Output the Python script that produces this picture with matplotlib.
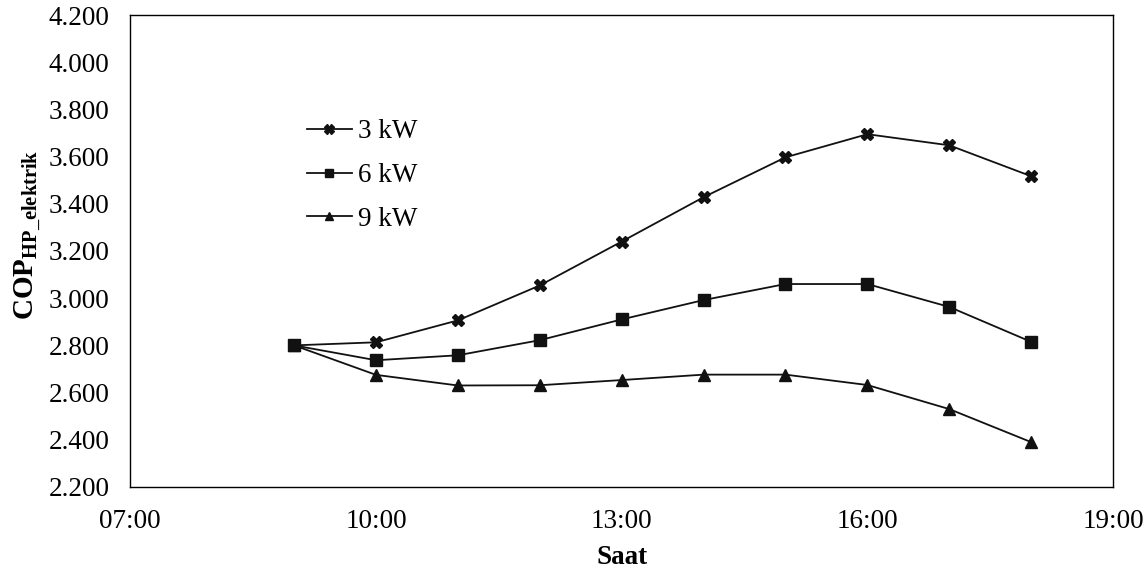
import matplotlib
matplotlib.use("Agg")
import matplotlib.pyplot as plt

# Hourly COP of the heat pump for three heater powers
hours = [9, 10, 11, 12, 13, 14, 15, 16, 17, 18]
cop_3kw = [2.800, 2.813, 2.906, 3.054, 3.240, 3.428, 3.597, 3.695, 3.648, 3.517]
cop_6kw = [2.800, 2.737, 2.758, 2.822, 2.910, 2.992, 3.060, 3.060, 2.963, 2.815]
cop_9kw = [2.800, 2.675, 2.630, 2.631, 2.653, 2.676, 2.676, 2.632, 2.530, 2.390]

series_labels = ["3 kW", "6 kW", "9 kW"]
x_ticks = [7, 10, 13, 16, 19]
x_tick_labels = ["07:00", "10:00", "13:00", "16:00", "19:00"]
y_ticks = [2.2, 2.4, 2.6, 2.8, 3.0, 3.2, 3.4, 3.6, 3.8, 4.0, 4.2]

plt.rcParams["font.family"] = ["Liberation Serif", "DejaVu Serif"]
plt.rcParams["mathtext.fontset"] = "custom"
plt.rcParams["mathtext.rm"] = "Liberation Serif"
plt.rcParams["mathtext.bf"] = "Liberation Serif:bold"

fig = plt.figure(figsize=(11.47, 5.79), dpi=100)
ax = fig.add_axes([0.1136, 0.159, 0.8568, 0.815])

line_kw = dict(color="#111111", linewidth=1.3)
ax.plot(hours, cop_3kw, marker="X", markersize=9, label=series_labels[0], **line_kw)
ax.plot(hours, cop_6kw, marker="s", markersize=8, label=series_labels[1], **line_kw)
ax.plot(hours, cop_9kw, marker="^", markersize=8.5, label=series_labels[2], **line_kw)

ax.set_xlim(7, 19)
ax.set_ylim(2.2, 4.2)
ax.set_xticks(x_ticks)
ax.set_xticklabels(x_tick_labels)
ax.set_yticks(y_ticks)
ax.set_yticklabels([f"{v:.3f}" for v in y_ticks])
ax.tick_params(axis="both", length=0, labelsize=19.5, colors="black")
ax.tick_params(axis="y", pad=15)
ax.tick_params(axis="x", pad=16)

for spine in ax.spines.values():
    spine.set_color("black")
    spine.set_linewidth(1.0)

ax.set_xlabel("Saat", fontsize=19.5, fontweight="bold", labelpad=8)
ax.set_ylabel(r"$\mathbf{COP}_{\mathbf{HP\_elektrik}}$", fontsize=21)
ax.yaxis.set_label_coords(-0.088, 0.535)

ax.legend(loc="center left", bbox_to_anchor=(0.166, 0.66), frameon=False,
          fontsize=19.5, borderpad=0, handlelength=1.65, handletextpad=0.25,
          labelspacing=0.7, markerscale=0.75)

fig.savefig("out.png", dpi=100)
